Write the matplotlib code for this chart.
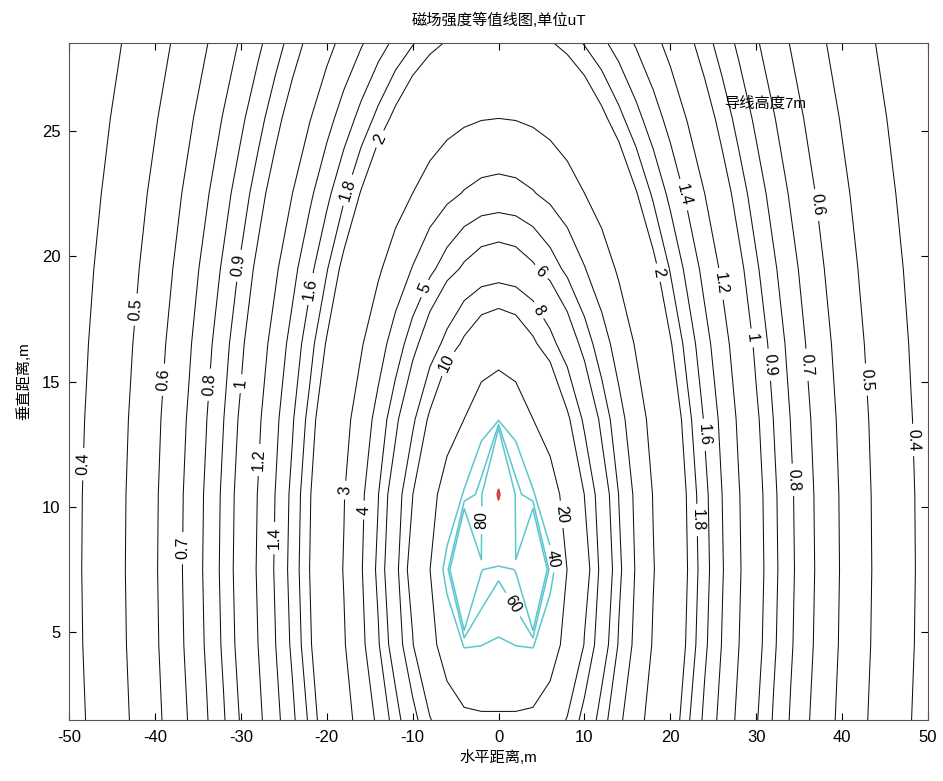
import numpy as np
import matplotlib
matplotlib.use("Agg")
import matplotlib.pyplot as plt

plt.rcParams["font.family"] = ["Liberation Sans", "Noto Sans CJK SC"]
plt.rcParams["axes.unicode_minus"] = False

# conductor layout (m), phase angles and current of the line
COND_X = [-4.0, 4.0, 0.0]
COND_Y = [7.0, 7.0, 10.8]
PHASE_DEG = [0.0, -120.0, 120.0]
CURRENT_A = 591.0

# calculation grid (m)
GRID_X = np.arange(-50, 51, 2)
GRID_Y = np.arange(1.5, 28.6, 3)

LEVELS_BLACK = [0.4, 0.5, 0.6, 0.7, 0.8, 0.9, 1, 1.2, 1.4, 1.6, 1.8, 2,
                3, 4, 5, 6, 8, 10, 20]
LEVELS_CYAN = [40, 60, 80]
LEVELS_RED = [385]

# (level, x, y) where each contour label sits
LABELS = [
    (0.4, -47.8, 11.7), (0.5, -41.7, 17.85), (0.6, -38.5, 15.06),
    (0.7, -36.1, 8.35), (0.8, -33.1, 14.86), (0.9, -30.0, 19.6),
    (1, -29.5, 14.9), (1.2, -27.4, 11.86), (1.4, -25.3, 8.75),
    (1.6, -21.2, 18.65), (1.8, -17.3, 22.6), (2, -13.4, 24.6),
    (3, -17.9, 10.67), (4, -15.0, 9.87), (5, -8.2, 18.65),
    (10, -5.4, 15.65), (6, 4.6, 19.25), (8, 4.0, 17.7),
    (20, 6.3, 9.67), (40, 5.2, 7.87), (60, 2.5, 6.28), (80, -1.3, 9.47),
    (1.4, 20.9, 22.4), (2, 21.1, 19.5), (1.2, 24.9, 18.85),
    (1, 28.6, 16.7), (0.9, 30.8, 15.65), (0.7, 35.1, 15.65),
    (0.6, 36.0, 22.0), (0.5, 41.85, 15.06), (0.4, 47.4, 12.66),
    (1.6, 23.1, 12.86), (1.8, 21.8, 9.47), (0.8, 33.4, 11.07),
]

# ── field (uT) on the grid, Biot-Savart for each phase conductor ──────────
X, Y = np.meshgrid(GRID_X, GRID_Y)
bx = np.zeros(X.shape, dtype=complex)
by = np.zeros(X.shape, dtype=complex)
for xc, yc, ph in zip(COND_X, COND_Y, PHASE_DEG):
    cur = CURRENT_A * np.exp(1j * np.deg2rad(ph))
    dx, dy = X - xc, Y - yc
    r2 = dx ** 2 + dy ** 2
    bx += -2e-7 * cur * dy / r2
    by += 2e-7 * cur * dx / r2
B = np.sqrt(np.abs(bx) ** 2 + np.abs(by) ** 2) * 1e6

# ── figure ────────────────────────────────────────────────────────────────
fig = plt.figure(figsize=(9.43, 7.81), dpi=100)
ax = fig.add_axes([0.0732, 0.078, 0.911, 0.867])

# one contour set per level so each label can be placed by hand
sets = {}
for lvl in LEVELS_BLACK:
    sets[lvl] = ax.contour(X, Y, B, levels=[lvl], colors="#111111", linewidths=0.75)
for lvl in LEVELS_CYAN:
    sets[lvl] = ax.contour(X, Y, B, levels=[lvl], colors="#5cc6cf", linewidths=1.1)
for lvl in LEVELS_RED:
    sets[lvl] = ax.contour(X, Y, B, levels=[lvl], colors="#d04040", linewidths=1.4)

fmt = lambda v: f"{v:g}"
for lvl, lx, ly in LABELS:
    sets[lvl].clabel(manual=[(lx, ly)], inline=True, inline_spacing=5,
                     fmt=fmt, fontsize=11.5, colors="black")

ax.text(26.3, 26.1, "导线高度7m", fontsize=11, va="center", ha="left")

ax.set_xlim(-50, 50)
ax.set_ylim(1.5, 28.5)
ax.set_xticks(range(-50, 51, 10))
ax.set_yticks([5, 10, 15, 20, 25])
ax.tick_params(direction="in", top=True, right=True, length=5, labelsize=12)
ax.tick_params(axis="x", pad=7)
ax.tick_params(axis="y", pad=6)
for sp in ax.spines.values():
    sp.set_color("#555555")
ax.set_title("磁场强度等值线图,单位uT", fontsize=11, pad=13)
ax.set_xlabel("水平距离,m", fontsize=11, labelpad=4)
ax.set_ylabel("垂直距离,m", fontsize=11, labelpad=8)

fig.savefig("out.png", dpi=100)
